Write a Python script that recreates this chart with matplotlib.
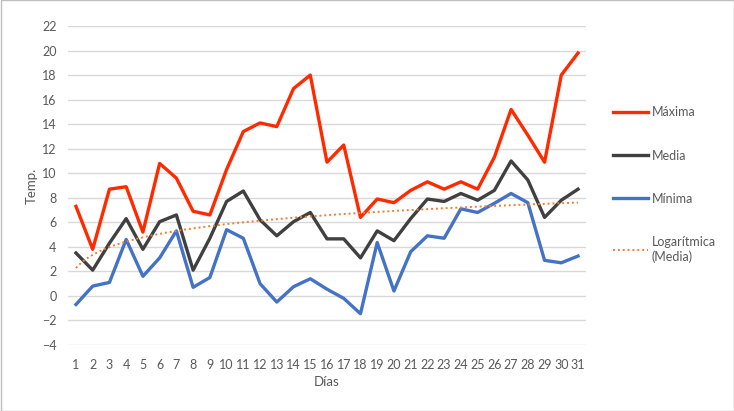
import numpy as np
import matplotlib
matplotlib.use("Agg")
import matplotlib.pyplot as plt
from matplotlib.lines import Line2D
from matplotlib.patches import Rectangle

dias = list(range(1, 32))
maxima = [7.3, 3.8, 8.7, 8.9, 5.2, 10.8, 9.6, 6.9, 6.6, 10.3, 13.4, 14.1, 13.8, 16.9, 18.0,
          10.9, 12.3, 6.4, 7.9, 7.6, 8.6, 9.3, 8.7, 9.3, 8.7, 11.3, 15.2, 13.1, 10.9, 18.0, 19.8]
media = [3.5, 2.1, 4.3, 6.3, 3.8, 6.05, 6.6, 2.1, 4.7, 7.7, 8.55, 6.2, 4.9, 6.05, 6.8,
         4.65, 4.65, 3.1, 5.3, 4.5, 6.3, 7.9, 7.7, 8.35, 7.8, 8.6, 11.0, 9.45, 6.4, 7.8, 8.7]
minima = [-0.7, 0.8, 1.1, 4.6, 1.6, 3.1, 5.3, 0.7, 1.5, 5.4, 4.7, 1.0, -0.5, 0.75, 1.4,
          0.55, -0.2, -1.45, 4.35, 0.4, 3.6, 4.9, 4.7, 7.1, 6.8, 7.55, 8.35, 7.6, 2.9, 2.7, 3.25]
yticks = list(range(-4, 23, 2))

plt.rcParams['font.family'] = ['Lato', 'DejaVu Sans']
txt = '#595959'

fig = plt.figure(figsize=(7.34, 4.11), dpi=100)
ax = fig.add_axes([67.6/734, 1-345/411, (586.4-67.6)/734, (345-26)/411])

x = np.array(dias, dtype=float)
ax.plot(x, maxima, color='#FF2A00', lw=2.4, solid_joinstyle='round', zorder=3)
ax.plot(x, media, color='#404040', lw=2.4, solid_joinstyle='round', zorder=3)
ax.plot(x, minima, color='#4472C4', lw=2.4, solid_joinstyle='round', zorder=3)

# logarithmic trendline of Media (least-squares fit on ln(x))
b, a = np.polyfit(np.log(x), np.array(media), 1)
xt = np.linspace(1, 31, 200)
ax.plot(xt, a + b*np.log(xt), color='#ED7D31', lw=1.4, ls=(0, (1, 1.5)), zorder=4)

ax.set_xlim(0.5, 31.5)
ax.set_ylim(-4, 22)
ax.set_yticks(yticks)
ax.set_xticks(dias)
ax.grid(axis='y', color='#D9D9D9', lw=1)
ax.set_axisbelow(True)
for s in ax.spines.values():
    s.set_visible(False)
ax.tick_params(length=0, labelsize=9, colors=txt, pad=8)
ax.tick_params(axis='x', pad=10)
ax.set_xlabel('Días', fontsize=9.5, color=txt, labelpad=4)
ax.set_ylabel('Temp.', fontsize=9.5, color=txt, labelpad=3)

handles = [Line2D([], [], color='#FF2A00', lw=2.4),
           Line2D([], [], color='#404040', lw=2.4),
           Line2D([], [], color='#4472C4', lw=2.4),
           Line2D([], [], color='#ED7D31', lw=1.4, ls=(0, (1, 1.5)))]
labels = ['Máxima', 'Media', 'Mínima', 'Logarítmica\n(Media)']
leg = fig.legend(handles, labels, loc='upper left', bbox_to_anchor=(602/734, 1-95/411),
                 frameon=False, fontsize=9, handlelength=2.8, handletextpad=0.3,
                 labelspacing=2.5, labelcolor=txt)

fig.patches.append(Rectangle((0.5/734, 0.5/411), 1-1/734, 1-1/411, transform=fig.transFigure,
                             fill=False, edgecolor='#BFBFBF', lw=1))
fig.savefig('out.png', dpi=100)
